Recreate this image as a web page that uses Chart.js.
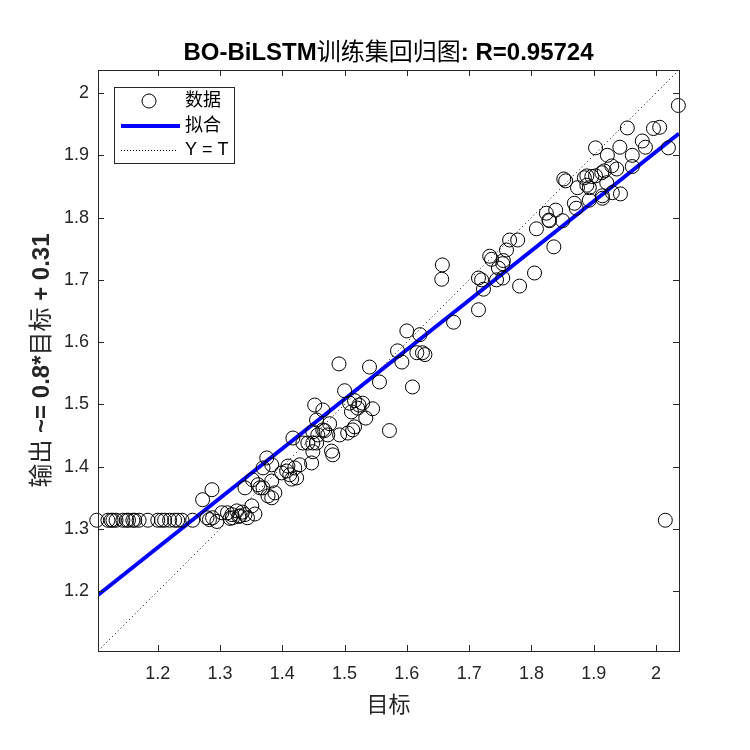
<!DOCTYPE html>
<html>
<head>
<meta charset="utf-8">
<script src="https://cdn.jsdelivr.net/npm/chart.js@4.4.0/dist/chart.umd.min.js"></script>
<style>
  html, body { margin: 0; padding: 0; background: #fff; }
</style>
</head>
<body>
<canvas id="reg-chart" width="750" height="750"></canvas>
<script>
// 目标 (targets) and 输出 (outputs), same order
const targets = [
  1.102, 1.120, 1.125, 1.128, 1.133, 1.144, 1.150, 1.153, 1.160, 1.163,
  1.170, 1.184, 1.200, 1.206, 1.211, 1.219, 1.227, 1.232, 1.239, 1.256,
  2.015, 1.279, 1.283, 1.288, 1.295, 1.303, 1.312, 1.319, 1.320, 1.327,
  1.332, 1.340, 1.351, 1.356, 1.272, 1.287, 1.340, 1.352, 1.361, 1.364,
  1.369, 1.383, 1.377, 1.383, 1.388, 1.375, 1.383, 1.369, 1.399, 1.409,
  1.412, 1.415, 1.423, 1.428, 1.447, 1.420, 1.407, 1.417, 1.433, 1.441,
  1.449, 1.455, 1.457, 1.468, 1.479, 1.481, 1.449, 1.452, 1.465, 1.455,
  1.476, 1.449, 1.465, 1.473, 1.492, 1.505, 1.516, 1.513, 1.572, 1.491,
  1.540, 1.585, 1.592, 1.616, 1.625, 1.629, 1.600, 1.621, 1.556, 1.609,
  1.500, 1.516, 1.523, 1.529, 1.521, 1.511, 1.545, 1.534, 1.508, 1.808,
  1.829, 1.850, 1.836, 1.765, 1.778, 1.760, 1.733, 1.736, 1.754, 1.747,
  1.744, 1.754, 1.715, 1.720, 1.723, 1.805, 1.781, 1.715, 1.657, 1.656,
  1.675, 1.755, 2.036, 1.954, 1.996, 2.006, 2.020, 1.978, 1.983, 1.903,
  1.942, 1.922, 1.962, 1.962, 1.852, 1.855, 1.874, 1.885, 1.889, 1.897,
  1.903, 1.913, 1.917, 1.929, 1.937, 1.889, 1.893, 1.921, 1.930, 1.943,
  1.914, 1.893, 1.869, 1.872, 1.824, 1.828, 1.839, 1.914,
  1.316, 1.330, 1.344, 1.336
];
const outputs = [
  1.314, 1.314, 1.314, 1.314, 1.314, 1.314, 1.314, 1.314, 1.314, 1.314,
  1.314, 1.314, 1.314, 1.314, 1.314, 1.314, 1.314, 1.314, 1.314, 1.314,
  1.314, 1.318, 1.315, 1.318, 1.312, 1.326, 1.326, 1.323, 1.318, 1.329,
  1.321, 1.323, 1.337, 1.324, 1.347, 1.363, 1.366, 1.379, 1.371, 1.366,
  1.366, 1.377, 1.353, 1.350, 1.358, 1.414, 1.403, 1.398, 1.390, 1.401,
  1.387, 1.380, 1.382, 1.403, 1.406, 1.398, 1.393, 1.446, 1.438, 1.438,
  1.438, 1.438, 1.451, 1.458, 1.425, 1.419, 1.424, 1.499, 1.491, 1.475,
  1.469, 1.456, 1.459, 1.451, 1.451, 1.454, 1.464, 1.459, 1.458, 1.565,
  1.560, 1.586, 1.568, 1.583, 1.583, 1.580, 1.618, 1.612, 1.536, 1.528,
  1.522, 1.506, 1.499, 1.502, 1.494, 1.488, 1.493, 1.478, 1.502, 1.782,
  1.795, 1.795, 1.753, 1.764, 1.764, 1.748, 1.738, 1.733, 1.726, 1.719,
  1.700, 1.703, 1.703, 1.700, 1.685, 1.711, 1.690, 1.652, 1.724, 1.701,
  1.632, 1.731, 1.980, 1.944, 1.943, 1.945, 1.912, 1.923, 1.913, 1.912,
  1.913, 1.900, 1.900, 1.882, 1.862, 1.859, 1.848, 1.864, 1.867, 1.866,
  1.867, 1.872, 1.875, 1.883, 1.878, 1.852, 1.848, 1.856, 1.840, 1.838,
  1.835, 1.828, 1.823, 1.815, 1.807, 1.796, 1.812, 1.831,
  1.317, 1.320, 1.318, 1.327
];
const axisLimits = [1.104, 2.037];
const fitY = [1.194, 1.935];
const tickVals = [1.2, 1.3, 1.4, 1.5, 1.6, 1.7, 1.8, 1.9, 2];
const tickLabels = ["1.2", "1.3", "1.4", "1.5", "1.6", "1.7", "1.8", "1.9", "2"];
const legendLabels = ["数据", "拟合", "Y = T"];

const FONT = "'Liberation Sans', Arial, 'Noto Sans CJK SC', sans-serif";
const INK = "#262626";

function drawMixed(t, segs, cx, cy, size) {
  let w = 0;
  segs.forEach(s => { t.font = s[1] + " " + size + "px " + FONT; w += t.measureText(s[0]).width; });
  let xx = cx - w / 2;
  t.textAlign = "left";
  t.textBaseline = "middle";
  segs.forEach(s => {
    t.font = s[1] + " " + size + "px " + FONT;
    t.fillText(s[0], xx, cy);
    xx += t.measureText(s[0]).width;
  });
}

const frame = {
  id: "frame",
  afterDatasetsDraw(chart) {
    const { ctx: t, chartArea: a, scales: { x, y } } = chart;
    t.save();
    // axes box with inward ticks
    t.strokeStyle = INK;
    t.lineWidth = 1;
    t.strokeRect(a.left + 0.5, a.top + 0.5, a.right - a.left, a.bottom - a.top);
    t.beginPath();
    tickVals.forEach(v => {
      const px = Math.round(x.getPixelForValue(v)) + 0.5;
      t.moveTo(px, a.bottom); t.lineTo(px, a.bottom - 6);
      t.moveTo(px, a.top); t.lineTo(px, a.top + 6);
      const py = Math.round(y.getPixelForValue(v)) + 0.5;
      t.moveTo(a.left, py); t.lineTo(a.left + 6, py);
      t.moveTo(a.right, py); t.lineTo(a.right - 6, py);
    });
    t.stroke();

    // legend
    const lx = a.left + 16, ly = a.top + 17, lw = 120, lh = 76;
    t.fillStyle = "#fff";
    t.fillRect(lx, ly, lw, lh);
    t.strokeRect(lx + 0.5, ly + 0.5, lw, lh);
    const rows = [ly + 14, ly + 39, ly + 63];
    t.beginPath();
    t.arc(lx + 35, rows[0], 7, 0, Math.PI * 2);
    t.strokeStyle = "#000";
    t.stroke();
    t.beginPath();
    t.strokeStyle = "#0000ff";
    t.lineWidth = 4;
    t.moveTo(lx + 7, rows[1]); t.lineTo(lx + 66, rows[1]);
    t.stroke();
    t.beginPath();
    t.strokeStyle = "#000";
    t.lineWidth = 1;
    t.setLineDash([1, 2]);
    t.moveTo(lx + 7, rows[2] + 0.5); t.lineTo(lx + 62, rows[2] + 0.5);
    t.stroke();
    t.setLineDash([]);
    t.fillStyle = "#000";
    t.font = "18px " + FONT;
    t.textAlign = "left";
    t.textBaseline = "middle";
    legendLabels.forEach((s, i) => t.fillText(s, lx + 71, rows[i]));

    // title and y label (mixed weights, like the original)
    t.fillStyle = "#000";
    drawMixed(t, [["BO-BiLSTM", "bold"], ["训练集回归图", "normal"], [": R=0.95724", "bold"]],
      (a.left + a.right) / 2, 53, 24);
    t.translate(42, (a.top + a.bottom) / 2);
    t.rotate(-Math.PI / 2);
    t.fillStyle = INK;
    drawMixed(t, [["输出 ", "normal"], ["~= 0.8*", "bold"], ["目标", "normal"], [" + 0.31", "bold"]], 0, 0, 24);
    t.restore();
  },
};

const scatterData = targets.map((v, i) => ({ x: v, y: outputs[i] }));
const fitData = axisLimits.map((v, i) => ({ x: v, y: fitY[i] }));
const idData = axisLimits.map(v => ({ x: v, y: v }));

const fixedTicks = s => { s.ticks = tickVals.map(v => ({ value: v })); };
const tickCb = v => { const k = tickVals.indexOf(v); return k < 0 ? "" : tickLabels[k]; };

new Chart(document.getElementById("reg-chart"), {
  type: "scatter",
  data: {
    datasets: [
      {
        label: "数据",
        data: scatterData,
        pointStyle: "circle",
        pointRadius: 7,
        pointBorderWidth: 1,
        borderColor: "#000",
        backgroundColor: "rgba(0,0,0,0)",
        clip: false,
      },
      {
        label: "拟合",
        data: fitData,
        showLine: true,
        borderColor: "#0000ff",
        borderWidth: 4,
        pointRadius: 0,
      },
      {
        label: "Y = T",
        data: idData,
        showLine: true,
        borderColor: "#000",
        borderWidth: 1,
        borderDash: [1, 3],
        pointRadius: 0,
      },
    ],
  },
  options: {
    responsive: false,
    animation: false,
    devicePixelRatio: 1,
    layout: { padding: { top: 70, right: 71, bottom: 0, left: 0 } },
    plugins: {
      legend: { display: false },
      title: { display: false },
      tooltip: { enabled: false },
    },
    scales: {
      x: {
        type: "linear",
        min: axisLimits[0],
        max: axisLimits[1],
        afterBuildTicks: fixedTicks,
        afterFit: s => { s.height = 99; },
        grid: { display: false, drawTicks: false },
        border: { display: false },
        ticks: { callback: tickCb, padding: 12, color: INK, font: { family: FONT, size: 18 }, maxRotation: 0 },
        title: { display: true, text: "目标", color: INK, font: { family: FONT, size: 22 }, padding: { top: 0, bottom: 31 } },
      },
      y: {
        type: "linear",
        min: axisLimits[0],
        max: axisLimits[1],
        afterBuildTicks: fixedTicks,
        afterFit: s => { s.width = 98; },
        grid: { display: false, drawTicks: false },
        border: { display: false },
        ticks: { callback: tickCb, padding: 9, color: INK, font: { family: FONT, size: 18 } },
      },
    },
  },
  plugins: [frame],
});
</script>
</body>
</html>
